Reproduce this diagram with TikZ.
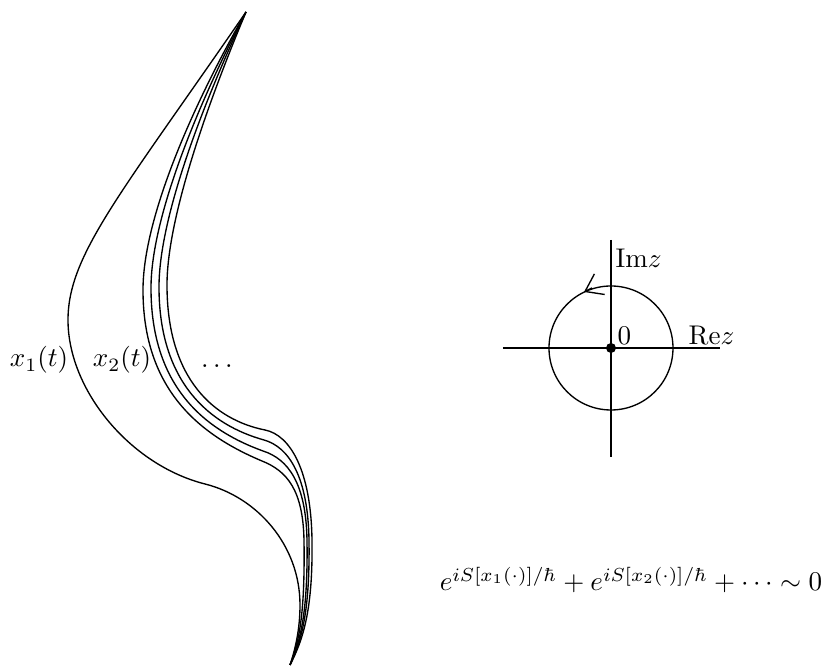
\documentclass[tikz,border=0pt]{standalone}
\usepackage{amsmath}
\usepackage{tikz}
\usetikzlibrary{
	arrows.meta,
	calc
}

\begin{document}
\begin{tikzpicture}[x=0.37pt, y=-0.37pt, line width=0.5pt]
		\useasboundingbox (0,0) rectangle (825,668);
		
		\coordinate (A) at (246,12);
		\coordinate (B) at (290,665);
		\coordinate (O) at (611,348);
		
		% first path
		\draw (A) .. controls (120,195) and (68,255) .. (68,320)
			.. controls (68,390) and (130,465) .. (205,484)
			.. controls (257,497) and (300,545) .. (300,605)
			.. controls (300,630) and (295,650) .. (B);
		
		% bundle of neighbouring paths
		\draw (A) .. controls (190,110) and (143,220) .. (143,290)
			.. controls (143,390) and (200,435) .. (262,461)
			.. controls (287,471) and (303,490) .. (304,540)
			.. controls (305,610) and (300,640) .. (B);
		\draw (A) .. controls (195,110) and (151,220) .. (151,288)
			.. controls (151,387) and (205,430) .. (263,451)
			.. controls (288,459) and (306,483) .. (307,540)
			.. controls (308,610) and (301,640) .. (B);
		\draw (A) .. controls (200,110) and (159,220) .. (159,287)
			.. controls (159,383) and (210,425) .. (264,440)
			.. controls (289,447) and (308,477) .. (309,540)
			.. controls (310,610) and (302,640) .. (B);
		\draw (A) .. controls (205,110) and (167,220) .. (167,285)
			.. controls (167,380) and (215,420) .. (265,430)
			.. controls (290,435) and (311,470) .. (312,540)
			.. controls (313,610) and (303,640) .. (B);
		
		\node[anchor=base] (xone) at (39,367) {$x_1(t)$};
		\node[anchor=base] (xtwo) at (122,367) {$x_2(t)$};
		\node[anchor=base] (more) at (217,368) {$\ldots$};
		
		% complex plane
		\draw (503,348) -- (720,348);
		\draw (611,240) -- (611,457);
		\draw (O) circle (62);
		\draw[-{Straight Barb[length=6pt,width=8.5pt]}] (592,288) -- (584,292);
		\fill (O) circle (5);
		
		\node[anchor=base west] (zero) at (608,345) {$0$};
		\node[anchor=base west] (imz) at (606,268) {$\mathrm{Im}z$};
		\node[anchor=base west] (rez) at (679,345) {$\mathrm{Re}z$};
		
		\node[anchor=base] (sum) at (631,591) {$e^{iS[x_1(\cdot)]/\hbar}+e^{iS[x_2(\cdot)]/\hbar}+\cdots\sim 0$};
	\end{tikzpicture}
\end{document}
